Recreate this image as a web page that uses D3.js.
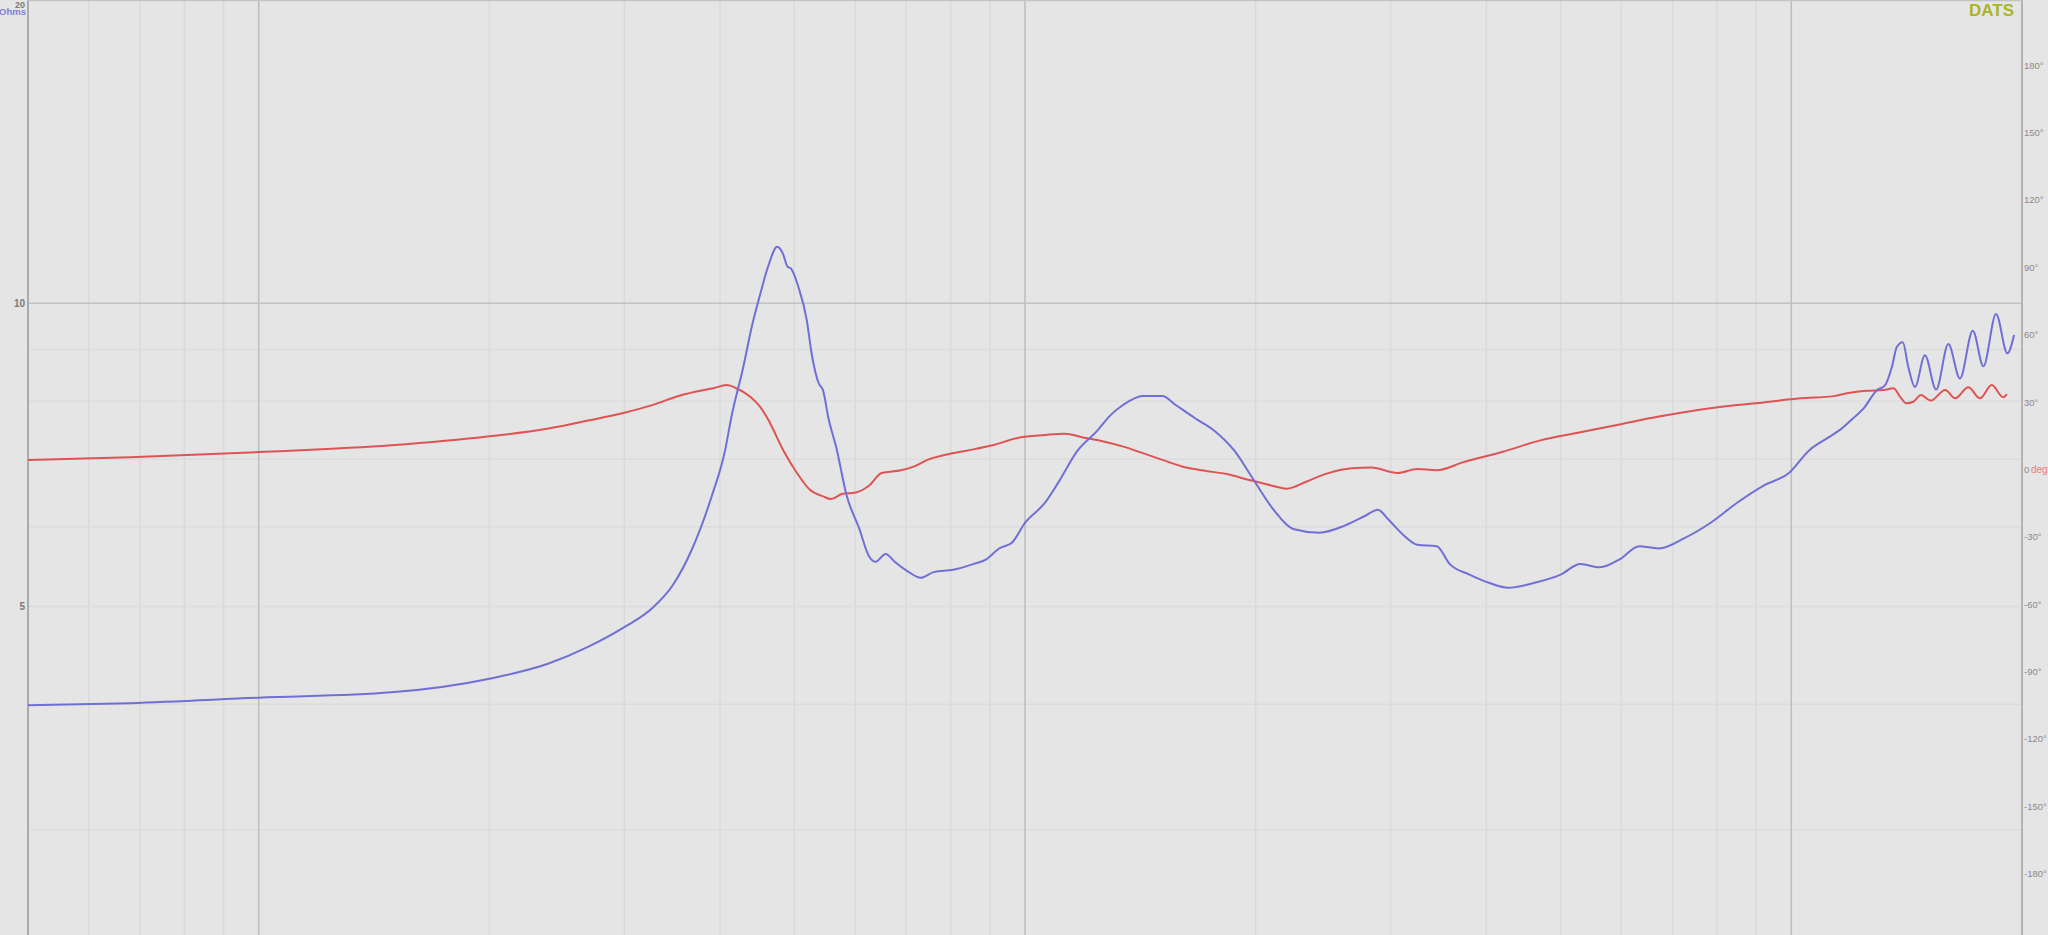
<!DOCTYPE html>
<html><head><meta charset="utf-8">
<script src="https://cdn.jsdelivr.net/npm/d3@7"></script>
<style>html,body{margin:0;padding:0;background:#e5e5e5;overflow:hidden}svg{display:block}</style>
</head><body><svg id="c" width="2048" height="935"></svg>
<script>
// ---- data ----
const impFreq = [5.0,6.8,10.0,14.9,20.0,23.9,26.9,30.0,32.7,34.7,36.8,39.0,40.6,41.4,42.9,44.0,45.1,46.2,47.5,48.3,49.0,49.5,50.6,51.9,52.7,53.8,54.5,55.4,56.7,58.5,60.8,62.5,63.8,65.8,67.6,70.3,73.1,76.0,80.6,85.6,89.0,92.5,96.2,100.1,106.2,110.4,117.1,124.2,129.2,134.4,142.5,151.1,157.1,166.7,176.8,187.6,199.0,211,223.8,242.1,261.8,277.6,288.8,298,312.4,324.9,344.6,358.4,380.2,403.2,427.6,462.4,500,530.5,562.8,596.9,633.2,671.6,726.4,785.6,849.7,919,994,1054,1118,1163,1204,1242,1293,1325,1353,1373,1398,1421,1450,1494,1545,1603,1660,1725,1781,1850,1914,1953];
const impOhms = [3.99,4.01,4.06,4.11,4.24,4.39,4.56,4.77,4.99,5.25,5.71,6.43,7.14,7.72,8.65,9.48,10.19,10.87,11.38,11.21,10.87,10.83,10.39,9.63,8.89,8.33,8.20,7.69,7.2,6.45,5.97,5.62,5.54,5.64,5.54,5.42,5.34,5.41,5.44,5.51,5.57,5.71,5.79,6.06,6.34,6.63,7.14,7.47,7.74,7.93,8.09,8.09,7.93,7.69,7.47,7.14,6.67,6.24,5.97,5.92,6.02,6.15,6.24,6.10,5.88,5.76,5.74,5.51,5.38,5.28,5.22,5.28,5.38,5.51,5.47,5.57,5.74,5.71,5.85,6.06,6.34,6.59,6.79,7.14,7.36,7.51,7.69,7.86,8.20,8.29,8.65,9.05,9.15,8.65,8.26,8.88,8.21,9.11,8.42,9.39,8.66,9.76,8.92,9.30];

const phaseFreq = [5.0,6.8,10.0,14.9,20.0,23.9,26.9,30.0,32.7,35.4,37.7,39.2,40.8,42.0,43.8,45.1,46.2,48.4,50.4,52.4,54.5,55.8,57.8,60.1,62.5,65.0,68.9,71.7,74.6,79.1,83.9,90.7,98.1,106.2,112.6,119.4,126.6,134.4,142.5,151.1,160.3,170,183.9,195,211,219.5,232.8,246.9,267,283.2,306.3,324.9,344.6,372.6,419.2,471.6,530.5,596.9,671.6,755.3,849.7,920,1027,1135,1193,1254,1319,1359,1387,1412,1443,1476,1520,1588,1636,1702,1763,1826,1891,1911];
const phaseDeg = [4.2,5.4,7.7,10.7,14.7,18.2,21.7,25.2,28.7,32.8,35.0,36.1,37.5,36.1,32.3,27.9,22.3,8.3,-1.6,-9.1,-12.0,-13.2,-10.9,-10.3,-7.4,-1.6,-0.4,1.3,4.2,6.6,8.3,10.7,14.1,15.3,15.9,14.1,12.4,10.1,7.2,4.2,1.3,-0.4,-2.2,-4.5,-7.4,-8.6,-5.5,-2.0,0.5,0.8,-1.6,0.2,-0.4,3.1,7.7,13.0,16.5,20.0,23.5,26.4,28.6,29.8,31.6,32.6,34.1,35.0,35.3,36.1,32.3,29.4,30.1,33.1,30.6,35.3,31.6,36.5,31.6,37.5,32.1,33.5];

const ohmTickValues = [10, 5];
const ohmTopLabel = "20";
const ohmGridMinor = [3, 4, 5, 6, 7, 8, 9];
const ohmGridMajor = [10];
const phaseTickValues = [180,150,120,90,60,30,0,-30,-60,-90,-120,-150,-180];
const freqMajor = [10, 100, 1000];
const freqMinor = [6,7,8,9,20,30,40,50,60,70,80,90,200,300,400,500,600,700,800,900];

// ---- layout ----
const W = 2048, H = 935;
const left = 28, right = 2022;
const svg = d3.select("#c");
const FONT = "Liberation Sans, Arial, sans-serif";

const x = d3.scaleLog().domain([5, 2000]).range([left, right]);
const y = d3.scaleLog().domain([5, 20]).range([606.6, 0]);
const p = d3.scaleLinear().domain([-180, 180]).range([873.7, 65]);

svg.append("rect").attr("width", W).attr("height", H).attr("fill", "#e5e5e5");

// grid
const g = svg.append("g");
g.selectAll(".vmin").data(freqMinor).enter().append("line")
  .attr("x1", d => x(d)).attr("x2", d => x(d)).attr("y1", 0).attr("y2", H)
  .attr("stroke", "#dadada").attr("stroke-width", 1.5);
g.selectAll(".hmin").data(ohmGridMinor).enter().append("line")
  .attr("x1", left).attr("x2", right).attr("y1", d => y(d)).attr("y2", d => y(d))
  .attr("stroke", "#dcdcdc").attr("stroke-width", 1.5);
g.selectAll(".vmaj").data(freqMajor).enter().append("line")
  .attr("x1", d => x(d)).attr("x2", d => x(d)).attr("y1", 0).attr("y2", H)
  .attr("stroke", "#bdbdbd").attr("stroke-width", 1.5);
g.selectAll(".hmaj").data(ohmGridMajor).enter().append("line")
  .attr("x1", left).attr("x2", right).attr("y1", d => y(d)).attr("y2", d => y(d))
  .attr("stroke", "#c2c2c2").attr("stroke-width", 1.5);

// frame
svg.append("line").attr("x1", left).attr("x2", left).attr("y1", 0).attr("y2", H).attr("stroke", "#ababab").attr("stroke-width", 2);
svg.append("line").attr("x1", right).attr("x2", right).attr("y1", 0).attr("y2", H).attr("stroke", "#b3b3b3").attr("stroke-width", 2);
svg.append("line").attr("x1", left).attr("x2", right).attr("y1", 0.5).attr("y2", 0.5).attr("stroke", "#c4c4c4").attr("stroke-width", 1.5);

// curves
const impData = impFreq.map((f, i) => [f, impOhms[i]]);
const phData = phaseFreq.map((f, i) => [f, phaseDeg[i]]);

svg.append("path").datum(phData)
  .attr("fill", "none").attr("stroke", "#df5353").attr("stroke-width", 2)
  .attr("stroke-linejoin", "round")
  .attr("d", d3.line().x(d => x(d[0])).y(d => p(d[1])).curve(d3.curveMonotoneX));

svg.append("path").datum(impData)
  .attr("fill", "none").attr("stroke", "#6f6fd6").attr("stroke-width", 2)
  .attr("stroke-linejoin", "round")
  .attr("d", d3.line().x(d => x(d[0])).y(d => y(d[1])).curve(d3.curveMonotoneX));

// left axis
const ax = svg.append("g").attr("transform", `translate(${left - 1},0)`)
  .call(d3.axisLeft(y).tickValues(ohmTickValues).tickFormat(d3.format("d")).tickSize(0).tickPadding(2));
ax.select(".domain").remove();
ax.selectAll("text").attr("fill", "#7a7a7a").attr("font-family", FONT)
  .attr("font-size", 10).attr("font-weight", "bold");
svg.append("text").attr("x", left - 3).attr("y", 7.5).attr("text-anchor", "end")
  .attr("font-family", FONT).attr("font-size", 9).attr("font-weight", "bold")
  .attr("fill", "#7a7a7a").text(ohmTopLabel);
svg.append("text").attr("x", left - 2).attr("y", 15).attr("text-anchor", "end")
  .attr("font-family", FONT).attr("font-size", 9.5).attr("font-weight", "bold")
  .attr("fill", "#8080dd").text("Ohms");

// right axis
const ar = svg.append("g").attr("transform", `translate(${right + 1},0)`)
  .call(d3.axisRight(p).tickValues(phaseTickValues).tickFormat(d => d === 0 ? "0" : d + "°").tickSize(0).tickPadding(1));
ar.select(".domain").remove();
ar.selectAll("text").attr("fill", "#8a8a8a").attr("font-family", FONT)
  .attr("font-size", 9.5);
svg.append("text").attr("x", right + 9).attr("y", p(0)).attr("dy", "0.32em")
  .attr("font-family", FONT).attr("font-size", 10)
  .attr("fill", "#ec7a7a").text("deg");

// brand
svg.append("text").attr("x", 2014).attr("y", 16).attr("text-anchor", "end")
  .attr("font-family", FONT).attr("font-size", 17).attr("font-weight", "bold")
  .attr("fill", "#aab426").text("DATS");
</script>
</body></html>
